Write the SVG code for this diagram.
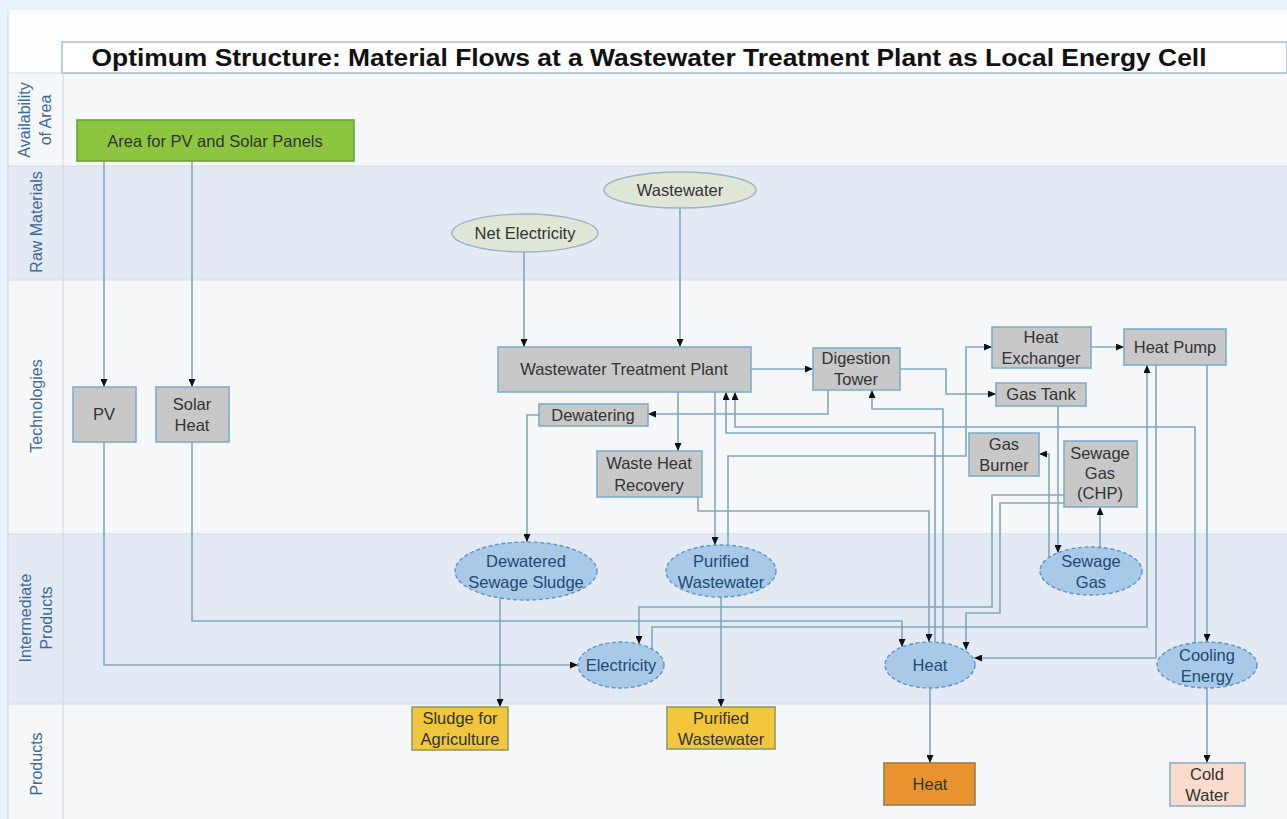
<svg xmlns="http://www.w3.org/2000/svg" width="1287" height="819" viewBox="0 0 1287 819">
<defs>
<marker id="arr" markerWidth="8" markerHeight="7" refX="8" refY="3.5" orient="auto" markerUnits="userSpaceOnUse">
<path d="M0,0 L8,3.5 L0,7 z" fill="#111"/>
</marker>
<style>
text{font-family:"Liberation Sans",Arial,sans-serif;}
.lbl{font-size:16.5px;fill:#333;text-anchor:middle;dominant-baseline:central;}
.ilbl{font-size:16.5px;fill:#1f4a72;text-anchor:middle;dominant-baseline:central;}
.lane{font-size:16px;fill:#3d6a98;text-anchor:middle;}
.tech{fill:#c8c8c8;stroke:#7eaecb;stroke-width:1.6;}
.raw{fill:#dfe6d6;stroke:#97b4c6;stroke-width:1.4;}
.inter{fill:#a8c9e8;stroke:#5c95c7;stroke-width:1.4;stroke-dasharray:4 2.5;}
.prod{fill:#f1c63c;stroke:#8f9d66;stroke-width:1.6;}
.conn path{fill:none;stroke:#7fa8c0;stroke-width:1.6;}
.conn path.a{marker-end:url(#arr);}
.wl{fill:#f6f7f8;}
.bl{fill:#e4eaf4;}
.grid{stroke:#d3dde6;stroke-width:1.2;fill:none;}
</style>
</defs>
<rect x="0" y="0" width="1287" height="819" fill="#e8f4fb"/>
<g id="lanes">
<rect x="8" y="10" width="1279" height="32" fill="#fdfdfe"/>
<rect x="8" y="42" width="55" height="31" fill="#fdfdfe"/>
<rect class="wl" x="8" y="73" width="1279" height="93"/>
<rect class="bl" x="8" y="166" width="1279" height="114"/>
<rect class="wl" x="8" y="280" width="1279" height="254"/>
<rect class="bl" x="8" y="534" width="1279" height="170"/>
<rect class="wl" x="8" y="704" width="1279" height="115"/>
<path class="grid" d="M8,73 H1287 M8,166 H1287 M8,280 H1287 M8,534 H1287 M8,704 H1287 M63,42 V819 M8,10 V819"/>
<rect x="62" y="42" width="1225" height="31" fill="#ffffff" stroke="#9fb9cc" stroke-width="1.4"/>
<text x="649" y="66" text-anchor="middle" font-size="23" font-weight="bold" fill="#111" textLength="1115" lengthAdjust="spacingAndGlyphs">Optimum Structure: Material Flows at a Wastewater Treatment Plant as Local Energy Cell</text>
<text class="lane" transform="translate(30,120) rotate(-90)">Availability</text>
<text class="lane" transform="translate(51,120) rotate(-90)">of Area</text>
<text class="lane" transform="translate(42,222) rotate(-90)">Raw Materials</text>
<text class="lane" transform="translate(42,406) rotate(-90)">Technologies</text>
<text class="lane" transform="translate(31,618) rotate(-90)">Intermediate</text>
<text class="lane" transform="translate(52,618) rotate(-90)">Products</text>
<text class="lane" transform="translate(42,764) rotate(-90)">Products</text>
</g>
<g id="connectors" class="conn">
<path class="a" d="M104,162 V387"/>
<path class="a" d="M192,162 V387"/>
<path class="a" d="M104,442 V665 H578"/>
<path class="a" d="M192,442 V621 H902 V647"/>
<path class="a" d="M524,252 V347"/>
<path class="a" d="M680,208 V347"/>
<path class="a" d="M751,369 H813"/>
<path class="a" d="M678,392 V451"/>
<path class="a" d="M828,390 V414 H648"/>
<path class="a" d="M539,415 H527 V542"/>
<path class="a" d="M500,598 V707"/>
<path class="a" d="M715,392 V545"/>
<path class="a" d="M721,597 V707"/>
<path class="a" d="M728,546 V456 H966 V347 H992"/>
<path class="a" d="M935,642 V433 H726 V392"/>
<path class="a" d="M1195,643 V427 H735 V392"/>
<path class="a" d="M943,643 V409 H872 V390"/>
<path class="a" d="M698,497 V511 H929 V642"/>
<path class="a" d="M900,369 H946 V394 H996"/>
<path class="a" d="M1091,347 H1124"/>
<path class="a" d="M1058,406 V553"/>
<path class="a" d="M1100,547 V507"/>
<path class="a" d="M1049,557 V454 H1039"/>
<path class="a" d="M1064,495 H992 V607 H639 V644"/>
<path class="a" d="M1064,503 H1000 V613 H966 V650"/>
<path class="a" d="M652,649 V627 H1147 V365"/>
<path class="a" d="M1156,365 V658 H974"/>
<path class="a" d="M1207,365 V642"/>
<path class="a" d="M930,688 V763"/>
<path class="a" d="M1207,688 V763"/>
</g>
<g id="area">
<rect x="77" y="120" width="277" height="41" fill="#8cc63f" stroke="#6ea234" stroke-width="1.6"/>
<text class="lbl" x="215" y="141">Area for PV and Solar Panels</text>
</g>
<g id="net-electricity">
<ellipse class="raw" cx="525" cy="233" rx="73" ry="19"/>
<text class="lbl" x="525" y="233">Net Electricity</text>
</g>
<g id="wastewater">
<ellipse class="raw" cx="680" cy="190" rx="76" ry="18"/>
<text class="lbl" x="680" y="190">Wastewater</text>
</g>
<g id="pv">
<rect class="tech" x="73" y="387" width="63" height="55"/>
<text class="lbl" x="104" y="414">PV</text>
</g>
<g id="solar-heat">
<rect class="tech" x="156" y="387" width="73" height="55"/>
<text class="lbl" x="192" y="404">Solar</text>
<text class="lbl" x="192" y="425">Heat</text>
</g>
<g id="wwtp">
<rect class="tech" x="498" y="347" width="253" height="45"/>
<text class="lbl" x="624" y="369">Wastewater Treatment Plant</text>
</g>
<g id="dewatering">
<rect class="tech" x="539" y="404" width="109" height="22"/>
<text class="lbl" x="593" y="415">Dewatering</text>
</g>
<g id="waste-heat-recovery">
<rect class="tech" x="597" y="451" width="105" height="46"/>
<text class="lbl" x="649" y="463">Waste Heat</text>
<text class="lbl" x="649" y="485">Recovery</text>
</g>
<g id="digestion-tower">
<rect class="tech" x="813" y="348" width="87" height="42"/>
<text class="lbl" x="856" y="358">Digestion</text>
<text class="lbl" x="856" y="379">Tower</text>
</g>
<g id="heat-exchanger">
<rect class="tech" x="992" y="327" width="99" height="41"/>
<text class="lbl" x="1041" y="337">Heat</text>
<text class="lbl" x="1041" y="358">Exchanger</text>
</g>
<g id="heat-pump">
<rect class="tech" x="1124" y="329" width="102" height="36"/>
<text class="lbl" x="1175" y="347">Heat Pump</text>
</g>
<g id="gas-tank">
<rect class="tech" x="996" y="383" width="90" height="23"/>
<text class="lbl" x="1041" y="394">Gas Tank</text>
</g>
<g id="gas-burner">
<rect class="tech" x="969" y="433" width="70" height="43"/>
<text class="lbl" x="1004" y="444">Gas</text>
<text class="lbl" x="1004" y="465">Burner</text>
</g>
<g id="sewage-gas-chp">
<rect class="tech" x="1064" y="441" width="73" height="66"/>
<text class="lbl" x="1100" y="453">Sewage</text>
<text class="lbl" x="1100" y="473">Gas</text>
<text class="lbl" x="1100" y="493">(CHP)</text>
</g>
<g id="dewatered-sludge">
<ellipse class="inter" cx="526" cy="571" rx="71" ry="29"/>
<text class="ilbl" x="526" y="561">Dewatered</text>
<text class="ilbl" x="526" y="582">Sewage Sludge</text>
</g>
<g id="purified-wastewater-i">
<ellipse class="inter" cx="721" cy="571" rx="55" ry="26"/>
<text class="ilbl" x="721" y="561">Purified</text>
<text class="ilbl" x="721" y="582">Wastewater</text>
</g>
<g id="sewage-gas">
<ellipse class="inter" cx="1091" cy="571" rx="51" ry="24"/>
<text class="ilbl" x="1091" y="561">Sewage</text>
<text class="ilbl" x="1091" y="582">Gas</text>
</g>
<g id="electricity">
<ellipse class="inter" cx="621" cy="665" rx="43" ry="23"/>
<text class="ilbl" x="621" y="665">Electricity</text>
</g>
<g id="heat-i">
<ellipse class="inter" cx="930" cy="665" rx="45" ry="23"/>
<text class="ilbl" x="930" y="665">Heat</text>
</g>
<g id="cooling-energy">
<ellipse class="inter" cx="1207" cy="665" rx="50" ry="23"/>
<text class="ilbl" x="1207" y="655">Cooling</text>
<text class="ilbl" x="1207" y="676">Energy</text>
</g>
<g id="sludge-agriculture">
<rect class="prod" x="412" y="707" width="96" height="43"/>
<text class="lbl" x="460" y="718">Sludge for</text>
<text class="lbl" x="460" y="739">Agriculture</text>
</g>
<g id="purified-wastewater-p">
<rect class="prod" x="667" y="707" width="108" height="42"/>
<text class="lbl" x="721" y="718">Purified</text>
<text class="lbl" x="721" y="739">Wastewater</text>
</g>
<g id="heat-p">
<rect x="884" y="763" width="91" height="42" fill="#e8932f" stroke="#9a7a52" stroke-width="1.6"/>
<text class="lbl" x="930" y="784">Heat</text>
</g>
<g id="cold-water">
<rect x="1170" y="763" width="75" height="43" fill="#f9dccb" stroke="#8cb0c8" stroke-width="1.6"/>
<text class="lbl" x="1207" y="774">Cold</text>
<text class="lbl" x="1207" y="795">Water</text>
</g>
</svg>
